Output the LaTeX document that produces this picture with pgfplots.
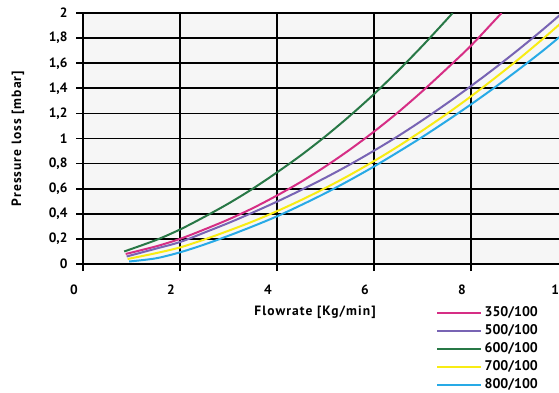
\documentclass[border=0pt]{standalone}
\usepackage{fontspec}
\setmainfont{PT Sans}
\newfontfamily\spacedfont[LetterSpace=8]{PT Sans}
\usepackage{pgfplots}
\pgfplotsset{compat=1.18}
\definecolor{cMag}{RGB}{214,46,133}
\definecolor{cPur}{RGB}{120,100,180}
\definecolor{cGrn}{RGB}{40,120,70}
\definecolor{cYel}{RGB}{248,236,20}
\definecolor{cBlu}{RGB}{40,170,230}
\definecolor{bgcol}{RGB}{246,246,246}
\begin{document}
\begin{tikzpicture}[x=1pt,y=1pt]
\begin{axis}[
  name=ax,
  at={(83pt,128pt)}, anchor=south west,
  scale only axis, width=485pt, height=251pt,
  xmin=0, xmax=10, ymin=0, ymax=2,
  xtick={0,2,4,6,8,10},
  ytick={0,0.2,0.4,0.6,0.8,1,1.2,1.4,1.6,1.8,2},
  /pgf/number format/.cd, fixed, use comma, precision=1, assume math mode=true,
  /pgfplots/.cd,
  axis line style={draw=none},
  axis background/.style={fill=bgcol},
  xmajorgrids=true, ymajorgrids=true,
  major grid style={draw=black, line width=1.7pt},
  tick pos=left,
  tick align=outside,
  major tick length=7pt,
  major tick style={draw=black, line width=1.7pt},
  tick label style={font=\fontsize{13.5}{15}\selectfont\bfseries},
  xticklabel style={xshift=-9pt, yshift=-10pt},
  yticklabel style={xshift=-5pt},
  ylabel={Pressure loss [mbar]},
  every axis y label/.style={at={(axis description cs:-0.134,0.5)}, anchor=center, rotate=90, font=\spacedfont\fontsize{13.5}{15}\selectfont\bfseries},
  legend style={draw=none, fill=none, at={(axis description cs:0.722,-0.15)}, anchor=north west,
    font=\fontsize{14}{15}\selectfont\bfseries, row sep=0pt,
    nodes={inner sep=2pt, text height=11pt, text depth=3pt}},
  legend cell align=left,
  legend image code/.code={\draw[#1, line width=2.2pt] (0pt,0pt) -- (44pt,0pt);},
  every axis plot/.append style={line width=2pt, smooth},
]
\addplot[cMag] coordinates {(0.88,0.08)(1.5,0.14)(2,0.20)(2.5,0.275)(3,0.355)(3.5,0.445)(4,0.546)(4.5,0.656)(5,0.778)(5.5,0.911)(6,1.055)(6.5,1.21)(7,1.378)(7.5,1.556)(8,1.74)(8.5,1.946)(8.63,2.0)};
\addlegendentry{350/100}
\addplot[cPur] coordinates {(0.9,0.06)(1.5,0.122)(2,0.175)(2.5,0.25)(3,0.327)(3.5,0.41)(4,0.497)(4.5,0.59)(5,0.688)(5.5,0.792)(6,0.903)(6.5,1.02)(7,1.146)(7.5,1.279)(8,1.418)(8.5,1.563)(9,1.715)(9.5,1.874)(9.88,2.0)};
\addlegendentry{500/100}
\addplot[cGrn] coordinates {(0.85,0.10)(1.5,0.19)(2,0.275)(2.5,0.375)(3,0.482)(3.5,0.60)(4,0.73)(4.5,0.868)(5,1.018)(5.5,1.18)(6,1.354)(6.5,1.541)(7,1.739)(7.5,1.948)(7.62,2.0)};
\addlegendentry{600/100}
\addplot[cYel] coordinates {(0.92,0.04)(1.5,0.086)(2,0.132)(2.5,0.195)(3,0.265)(3.5,0.339)(4,0.421)(4.5,0.51)(5,0.606)(5.5,0.709)(6,0.82)(6.5,0.938)(7,1.064)(7.5,1.196)(8,1.336)(8.5,1.484)(9,1.638)(9.5,1.8)(10,1.969)};
\addlegendentry{700/100}
\addplot[cBlu] coordinates {(0.95,0.02)(1.5,0.045)(2,0.093)(2.5,0.155)(3,0.225)(3.5,0.30)(4,0.38)(4.5,0.47)(5,0.565)(5.5,0.668)(6,0.777)(6.5,0.893)(7,1.013)(7.5,1.14)(8,1.272)(8.5,1.41)(9,1.555)(9.5,1.705)(10,1.865)};
\addlegendentry{800/100}
\end{axis}
\node[font=\spacedfont\fontsize{13.5}{15}\selectfont\bfseries, anchor=center] at ([xshift=232pt,yshift=-48pt]ax.south west) {Flowrate [Kg/min]};
\pgfresetboundingbox
\useasboundingbox (0pt,0pt) rectangle (559pt,392pt);
\end{tikzpicture}
\end{document}
